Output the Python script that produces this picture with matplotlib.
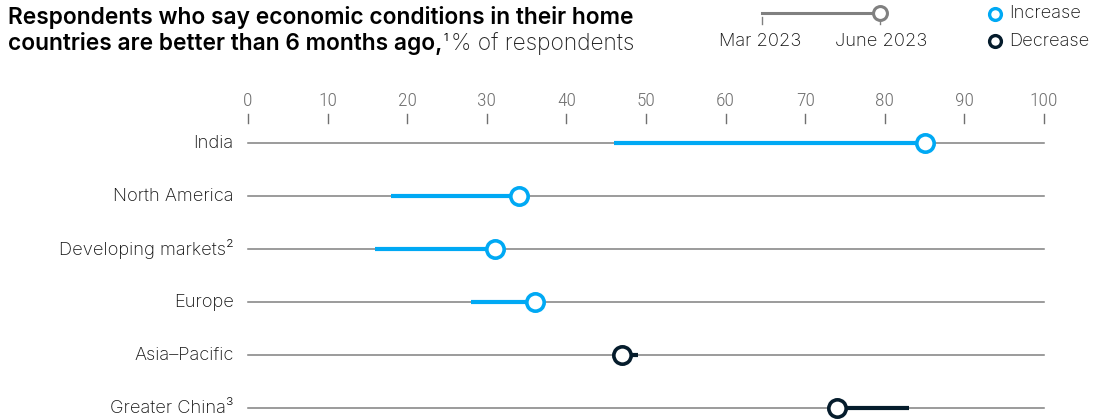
import matplotlib
matplotlib.use("Agg")
import matplotlib.pyplot as plt
from matplotlib import font_manager

# Datos: % de encuestados, marzo 2023 -> junio 2023
regiones = ["India", "North America", "Developing markets²", "Europe", "Asia–Pacific", "Greater China³"]
mar_2023 = [46, 18, 16, 28, 49, 83]
jun_2023 = [85, 34, 31, 36, 47, 74]
ticks = [0, 10, 20, 30, 40, 50, 60, 70, 80, 90, 100]

AZUL = "#00A9F4"
NAVY = "#051C2C"
GRIS = "#808080"

disponibles = set(f.name for f in font_manager.fontManager.ttflist)


def elegir(*nombres):
    for n in nombres:
        if n in disponibles:
            return n
    return "DejaVu Sans"


FUENTE_ESCALA = elegir("Roboto Condensed", "Liberation Sans Narrow", "Archivo Narrow")
FUENTE_TEXTO = elegir("Inter", "Roboto")
FUENTE_TITULO = elegir("Inter", "Roboto")

W, H = 1105, 419
fig = plt.figure(figsize=(W / 100, H / 100), dpi=100)
fy = lambda px: 1 - px / H

# Ejes: x de 248px a 1044px, filas a 143px + 53px*i
top_px, bot_px = 125, 419
ax = fig.add_axes([248 / W, 0, (1044 - 248) / W, (bot_px - top_px) / H])
paso = 53.0
ax.set_xlim(0, 100)
ax.set_ylim((bot_px - 143) / paso, (top_px - 143) / paso)
ax.axis("off")

for i, (region, a, b) in enumerate(zip(regiones, mar_2023, jun_2023)):
    color = AZUL if b >= a else NAVY
    ax.plot([0, 100], [i, i], color=GRIS, lw=1.1, zorder=1, clip_on=False)
    ax.plot([a, b], [i, i], color=color, lw=3, zorder=2, solid_capstyle="butt", clip_on=False)
    ax.plot([b], [i], marker="o", ms=12.5, mfc="white", mec=color, mew=2.6, zorder=3, clip_on=False)
    ax.text(-1.8, i, region, ha="right", va="center", fontsize=13.2, family=FUENTE_TEXTO,
            fontweight="light", color="#111111")

# Escala superior
for t in ticks:
    ax.text(t, (101 - 143) / paso, str(t), ha="center", va="center", fontsize=14,
            family=FUENTE_ESCALA, fontweight="light", color="#707070")
    ax.plot([t, t], [(114 - 143) / paso, (123 - 143) / paso], color="#707070", lw=1, clip_on=False)

# Título: ajustar el tamaño para que la primera línea ocupe ~625px
fig.canvas.draw()
r = fig.canvas.get_renderer()
linea1 = "Respondents who say economic conditions in their home"
prueba = fig.text(0, 0, linea1, fontsize=14, fontweight="semibold", family=FUENTE_TITULO)
ancho = prueba.get_window_extent(r).width
prueba.remove()
tam = 14 * 625 / ancho

fig.text(8 / W, fy(24), linea1, fontsize=tam, fontweight="semibold", family=FUENTE_TITULO,
         va="baseline", color="#000000")
t2 = fig.text(8 / W, fy(50), "countries are better than 6 months ago,",
              fontsize=tam, fontweight="semibold", family=FUENTE_TITULO, va="baseline", color="#000000")
bb = t2.get_window_extent(r)
t3 = fig.text((bb.x1 + 1) / W, fy(41), "1", fontsize=8, family=FUENTE_TITULO, va="baseline")
bb3 = t3.get_window_extent(r)
fig.text((bb3.x1 + 3) / W, fy(50), "% of respondents", fontsize=tam, fontweight="light",
         family=FUENTE_TITULO, va="baseline", color="#222222")

# Leyenda de fechas
fig.add_artist(plt.Line2D([762 / W, 880 / W], [fy(13), fy(13)], color=GRIS, lw=2.2))
for x in (762, 880):
    fig.add_artist(plt.Line2D([x / W, x / W], [fy(17), fy(24)], color=GRIS, lw=1))
fig.add_artist(plt.Line2D([880 / W], [fy(13)], marker="o", ms=10, mfc="white", mec=GRIS, mew=2.2))
for x, lab in ((760, "Mar 2023"), (881, "June 2023")):
    fig.text(x / W, fy(41), lab, ha="center", va="center", fontsize=13.2, family=FUENTE_TEXTO,
             fontweight="light", color="#111111")

# Leyenda de colores
for y, c, lab in ((14, AZUL, "Increase"), (41, NAVY, "Decrease")):
    fig.add_artist(plt.Line2D([995 / W], [fy(y)], marker="o", ms=8.5, mfc="white", mec=c, mew=2.4))
    fig.text(1009 / W, fy(y), lab, ha="left", va="center", fontsize=13.2, family=FUENTE_TEXTO,
             fontweight="light", color="#111111")

fig.savefig("out.png", dpi=100)
